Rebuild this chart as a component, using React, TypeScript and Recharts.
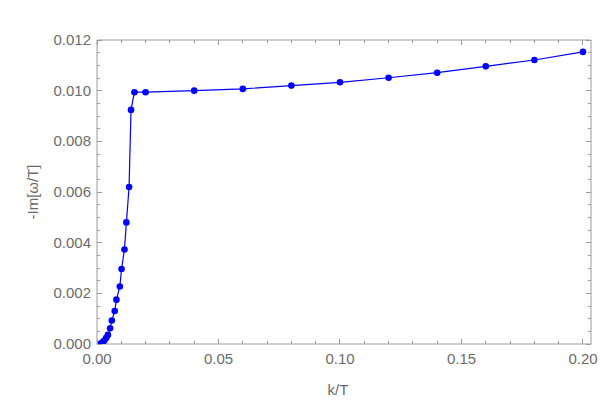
import React from "react";
import { LineChart, Line, XAxis, YAxis, Label } from "recharts";

const kOverT = [
  0.0012, 0.0018, 0.0024, 0.003, 0.0038, 0.0045, 0.0054, 0.0061, 0.0073, 0.008, 0.0094,
  0.0101, 0.0113, 0.0121, 0.0132, 0.014, 0.0154, 0.02, 0.04, 0.06, 0.08, 0.1, 0.12, 0.14,
  0.16, 0.18, 0.2,
];
const minusImOmega = [
  0.0, 0.00003, 0.00008, 0.00014, 0.00024, 0.00036, 0.00062, 0.00093, 0.0013, 0.00175,
  0.00227, 0.00296, 0.00373, 0.0048, 0.0062, 0.00924, 0.00994, 0.00994, 0.01, 0.01007,
  0.0102, 0.01033, 0.01051, 0.01071, 0.01096, 0.01121, 0.01153,
];

const xMajor = [0, 0.05, 0.1, 0.15, 0.2];
const xTicks = Array.from({ length: 21 }, (_, i) => +(i * 0.01).toFixed(2));
const yMajor = [0, 0.002, 0.004, 0.006, 0.008, 0.01, 0.012];
const yTicks = Array.from({ length: 25 }, (_, i) => +(i * 0.0005).toFixed(4));

const X_DOMAIN = [0, 0.2033];
const Y_DOMAIN = [0, 0.012];

const data = kOverT.map((k, i) => ({ k, im: minusImOmega[i] }));

const AXIS = "#9a9a9a";
const TEXT = "#6b6b6b";
const FONT = "'Liberation Sans', Arial, sans-serif";
const BLUE = "#0000ff";

const isMajor = (v: number, list: number[]) => list.some((m) => Math.abs(m - v) < 1e-9);

// Mathematica-style frame: ticks point into the plot, majors a bit longer
const BottomTick = ({ x, y, payload }: any) => {
  const major = isMajor(payload.value, xMajor);
  return (
    <g>
      <line x1={x} x2={x} y1={y} y2={y - (major ? 5 : 3)} stroke={AXIS} shapeRendering="crispEdges" />
      {major && (
        <text x={x} y={y + 20} textAnchor="middle" fill={TEXT} fontSize={15} fontFamily={FONT}>
          {payload.value.toFixed(2)}
        </text>
      )}
    </g>
  );
};

const TopTick = ({ x, y, payload }: any) => {
  const major = isMajor(payload.value, xMajor);
  return <line x1={x} x2={x} y1={y} y2={y + (major ? 5 : 3)} stroke={AXIS} shapeRendering="crispEdges" />;
};

const LeftTick = ({ x, y, payload }: any) => {
  const major = isMajor(payload.value, yMajor);
  return (
    <g>
      <line x1={x} x2={x + (major ? 5 : 3)} y1={y} y2={y} stroke={AXIS} shapeRendering="crispEdges" />
      {major && (
        <text x={x - 6} y={y + 5} textAnchor="end" fill={TEXT} fontSize={15} fontFamily={FONT}>
          {payload.value.toFixed(3)}
        </text>
      )}
    </g>
  );
};

const RightTick = ({ x, y, payload }: any) => {
  const major = isMajor(payload.value, yMajor);
  return <line x1={x} x2={x - (major ? 5 : 3)} y1={y} y2={y} stroke={AXIS} shapeRendering="crispEdges" />;
};

export default function App() {
  return (
    <div style={{ position: "absolute", left: 0, top: 0, width: 614, height: 414, background: "#fff" }}>
      <LineChart width={614} height={414} data={data} margin={{ top: 39, right: 22, bottom: 0, left: 0 }}>
        <XAxis
          dataKey="k"
          type="number"
          domain={X_DOMAIN}
          allowDataOverflow
          ticks={xTicks}
          interval={0}
          height={70}
          stroke={AXIS}
          tickLine={false}
          tickSize={0}
          tickMargin={0}
          tick={<BottomTick />}
        >
          <Label
            content={({ viewBox }: any) => (
              <text
                x={viewBox.x + viewBox.width / 2 - 6}
                y={viewBox.y + 51}
                textAnchor="middle"
                fill={TEXT}
                fontSize={15}
                fontFamily={FONT}
              >
                k/T
              </text>
            )}
          />
        </XAxis>
        <XAxis
          xAxisId="top"
          orientation="top"
          dataKey="k"
          type="number"
          domain={X_DOMAIN}
          allowDataOverflow
          ticks={xTicks}
          interval={0}
          height={1}
          stroke={AXIS}
          tickLine={false}
          tickSize={0}
          tickMargin={0}
          tick={<TopTick />}
        />
        <YAxis
          type="number"
          domain={Y_DOMAIN}
          allowDataOverflow
          ticks={yTicks}
          interval={0}
          width={97}
          stroke={AXIS}
          tickLine={false}
          tickSize={0}
          tickMargin={0}
          tick={<LeftTick />}
        >
          <Label
            content={({ viewBox }: any) => {
              const cx = 38;
              const cy = viewBox.y + viewBox.height / 2;
              return (
                <text
                  x={cx}
                  y={cy}
                  transform={`rotate(-90 ${cx} ${cy})`}
                  textAnchor="middle"
                  fill={TEXT}
                  fontSize={15}
                  fontFamily={FONT}
                >
                  -Im[ω/T]
                </text>
              );
            }}
          />
        </YAxis>
        <YAxis
          yAxisId="right"
          orientation="right"
          type="number"
          domain={Y_DOMAIN}
          allowDataOverflow
          ticks={yTicks}
          interval={0}
          width={1}
          stroke={AXIS}
          tickLine={false}
          tickSize={0}
          tickMargin={0}
          tick={<RightTick />}
        />
        {/* invisible copy so the top/right frame axes get a domain and render */}
        <Line
          xAxisId="top"
          yAxisId="right"
          dataKey="im"
          stroke="none"
          dot={false}
          activeDot={false}
          legendType="none"
          isAnimationActive={false}
        />
        <Line
          dataKey="im"
          type="linear"
          stroke={BLUE}
          strokeWidth={1.2}
          dot={{ r: 3.3, fill: BLUE, stroke: BLUE, strokeWidth: 0 }}
          isAnimationActive={false}
        />
      </LineChart>
    </div>
  );
}
